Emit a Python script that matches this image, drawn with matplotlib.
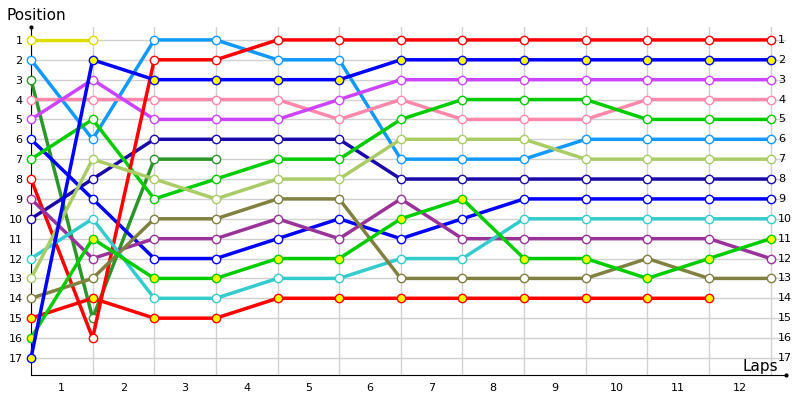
import matplotlib
matplotlib.use("Agg")
import matplotlib.pyplot as plt

laps = [str(i) for i in range(1, 13)]
positions = list(range(1, 18))

yellow      = [1, 1]
lightblue   = [2, 6, 1, 1, 2, 2, 7, 7, 7, 6, 6, 6, 6]
darkgreen   = [3, 15, 7, 7]
pink        = [4, 4, 4, 4, 4, 5, 4, 5, 5, 5, 4, 4, 4]
violet      = [5, 3, 5, 5, 5, 4, 3, 3, 3, 3, 3, 3, 3]
blue        = [6, 9, 12, 12, 11, 10, 11, 10, 9, 9, 9, 9, 9]
green       = [7, 5, 9, 8, 7, 7, 5, 4, 4, 4, 5, 5, 5]
red         = [8, 16, 2, 2, 1, 1, 1, 1, 1, 1, 1, 1, 1]
purple      = [9, 12, 11, 11, 10, 11, 9, 11, 11, 11, 11, 11, 12]
navy        = [10, 8, 6, 6, 6, 6, 8, 8, 8, 8, 8, 8, 8]
cyan        = [12, 10, 14, 14, 13, 13, 12, 12, 10, 10, 10, 10, 10]
lightgreen  = [13, 7, 8, 9, 8, 8, 6, 6, 6, 7, 7, 7, 7]
olive       = [14, 13, 10, 10, 9, 9, 13, 13, 13, 13, 12, 13, 13]
red_y       = [15, 14, 15, 15, 14, 14, 14, 14, 14, 14, 14, 14]
green_y     = [16, 11, 13, 13, 12, 12, 10, 9, 12, 12, 13, 12, 11]
blue_y      = [17, 2, 3, 3, 3, 3, 2, 2, 2, 2, 2, 2, 2]

series = [
    (yellow, "#dddd00", "white"),
    (lightblue, "#1199ff", "white"),
    (darkgreen, "#2a962a", "white"),
    (pink, "#ff88aa", "white"),
    (violet, "#cc44ff", "white"),
    (navy, "#1a0aaa", "white"),
    (blue, "#0000ff", "white"),
    (green, "#00cc00", "white"),
    (red, "#ff0000", "white"),
    (purple, "#993399", "white"),
    (cyan, "#33cccc", "white"),
    (lightgreen, "#aacc66", "white"),
    (olive, "#808040", "white"),
    (red_y, "#ff0000", "#ffff00"),
    (green_y, "#00cc00", "#ffff00"),
    (blue_y, "#0000ff", "#ffff00"),
]

fig = plt.figure(figsize=(8, 4), dpi=100)
ax = fig.add_axes([31/800, 0.0625, (786-31)/800, 0.87])
ax.set_xlim(0, 12.25)
ax.set_ylim(17.86, 0.35)

for x in range(0, 13):
    ax.axvline(x, color="#d0d0d0", lw=1, zorder=0)
for p in positions:
    ax.axhline(p, color="#d0d0d0", lw=1, zorder=0)

for vals, col, face in series:
    ax.plot(range(len(vals)), vals, color=col, lw=2.5, marker="o", ms=6,
            mfc=face, mec=col, mew=1, clip_on=False, zorder=3)

ax.set_yticks(positions)
ax.set_yticklabels([str(p) for p in positions], fontsize=8)
ax.set_xticks([i + 0.5 for i in range(12)])
ax.set_xticklabels(laps, fontsize=8)
ax.tick_params(length=0, pad=6)
for p in positions:
    ax.text(12.12, p, str(p), fontsize=8, va="center", ha="left")

for s in ["top", "right"]:
    ax.spines[s].set_visible(False)
ax.plot([0], [0.35], "k.", ms=4, clip_on=False)
ax.plot([12.25], [17.86], "k.", ms=4, clip_on=False)

fig.text(6/800, 1-16/400, "Position", fontsize=11, va="center")
fig.text(742/800, 1-366/400, "Laps", fontsize=11, va="center")

fig.savefig("out.png")
